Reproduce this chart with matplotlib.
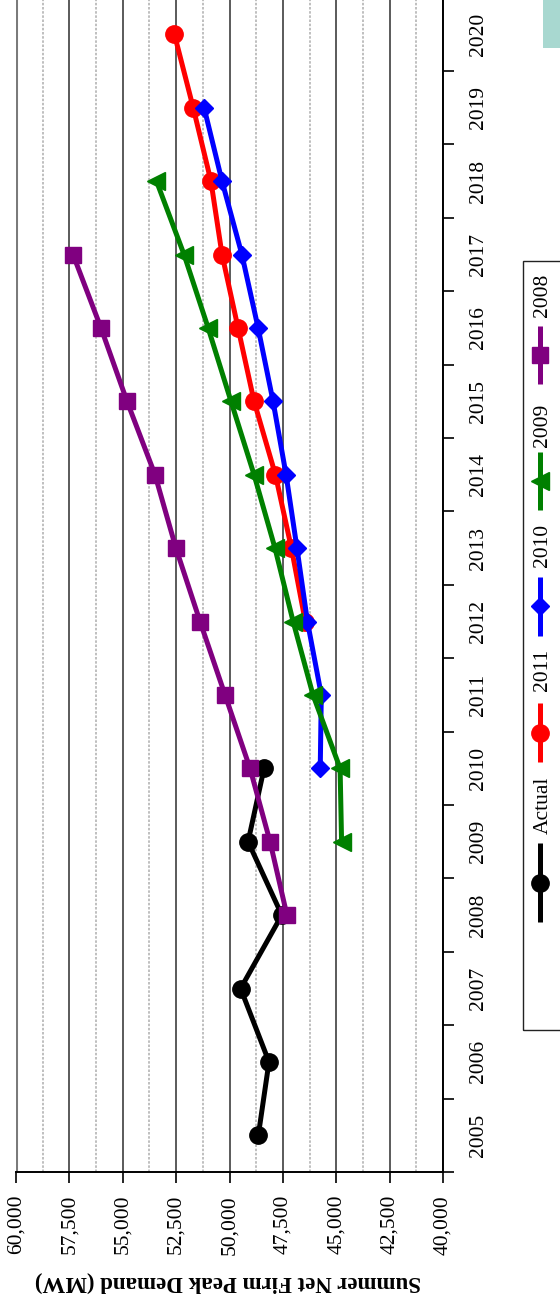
import matplotlib
matplotlib.use("Agg")
import matplotlib.pyplot as plt
from matplotlib.lines import Line2D
from matplotlib.patches import Rectangle
from matplotlib.ticker import FixedLocator, FuncFormatter

plt.rcParams["font.family"] = ["Liberation Serif", "DejaVu Serif"]

# ---- data -------------------------------------------------------------
years = list(range(2005, 2021))

actual_years = [2005, 2006, 2007, 2008, 2009, 2010]
actual = [48650, 48150, 49480, 47550, 49130, 48380]

f2011_years = [2012, 2013, 2014, 2015, 2016, 2017, 2018, 2019, 2020]
f2011 = [46450, 47100, 47850, 48850, 49600, 50350, 50870, 51700, 52580]

f2010_years = [2010, 2011, 2012, 2013, 2014, 2015, 2016, 2017, 2018, 2019]
f2010 = [45750, 45700, 46350, 46840, 47350, 47960, 48660, 49420, 50350, 51190]

f2009_years = [2009, 2010, 2011, 2012, 2013, 2014, 2015, 2016, 2017, 2018]
f2009 = [44750, 44820, 46090, 47020, 47870, 48850, 49930, 51000, 52130, 53420]

f2008_years = [2008, 2009, 2010, 2011, 2012, 2013, 2014, 2015, 2016, 2017]
f2008 = [47310, 48100, 49040, 50210, 51380, 52510, 53490, 54800, 56020, 57330]

series_labels = ["Actual", "2011", "2010", "2009", "2008"]
series_colors = ["black", "#ff0000", "#0000ff", "#008000", "#800080"]
series_markers = ["o", "o", "D", "<", "s"]
value_ticks = [60000, 57500, 55000, 52500, 50000, 47500, 45000, 42500, 40000]
axis_title = "Summer Net Firm Peak Demand (MW)"

# ---- figure -----------------------------------------------------------
W, H = 560, 1303
fig = plt.figure(figsize=(W / 100, H / 100), dpi=100)

def fx(px):
    return px / W

def fy(py):
    return 1 - py / H

ax_left, ax_right = 16, 443
ax_bottom, ax_top = 1172, -2.4
ax = fig.add_axes([fx(ax_left), fy(ax_bottom), fx(ax_right - ax_left),
                   (ax_bottom - ax_top) / H])

def yidx(yrs):
    return [y - years[0] for y in yrs]

# grid (value axis is horizontal, reversed)
for v in range(40000, 60001, 2500):
    ax.axvline(v, color="#5a5a5a", lw=2.2 if v == 60000 else 1.4,
               alpha=0.8 if v == 60000 else 1.0, zorder=0)
for v in range(41250, 60000, 2500):
    ax.axvline(v, color="#b4b4b4", lw=1.2, ls=(0, (1.5, 1)), zorder=0)

series = [
    (actual_years, actual),
    (f2011_years, f2011),
    (f2010_years, f2010),
    (f2009_years, f2009),
    (f2008_years, f2008),
]
msizes = {"o": 12.5, "D": 9.3, "<": 12.5, "s": 11.5}
for i, (yrs, vals) in enumerate(series):
    ax.plot(vals, yidx(yrs), color=series_colors[i], lw=3.6,
            marker=series_markers[i], ms=msizes[series_markers[i]],
            mec=series_colors[i], mfc=series_colors[i], zorder=3 + i * 0.1,
            solid_capstyle="butt")

ax.set_xlim(60000, 40000)
ax.set_ylim(-0.5, len(years) - 0.5)

# value axis along the bottom
ax.xaxis.set_major_locator(FixedLocator(value_ticks))
ax.xaxis.set_major_formatter(FuncFormatter(lambda v, p: f"{int(v):,}"))
ax.tick_params(axis="x", direction="out", length=8, width=1.2, pad=8.5,
               labelsize=15.5, labelrotation=90, color="black")

# year axis on the right, ticks between categories
ax.yaxis.tick_right()
ax.yaxis.set_major_locator(FixedLocator(range(len(years))))
ax.yaxis.set_major_formatter(FuncFormatter(lambda v, p: str(years[int(round(v))])))
ax.yaxis.set_minor_locator(FixedLocator([i - 0.5 for i in range(len(years) + 1)]))
ax.tick_params(axis="y", which="major", length=0, pad=18.5, labelsize=15.5,
               labelrotation=90)
ax.tick_params(axis="y", which="minor", direction="out", length=8, width=1.2,
               color="black", right=True, left=False)
for lab in ax.get_yticklabels():
    lab.set_va("center")
    lab.set_ha("left")

for s in ["left", "top"]:
    ax.spines[s].set_visible(False)
ax.spines["bottom"].set_linewidth(1.4)
ax.spines["right"].set_linewidth(1.4)

# axis title (upside down, below value labels)
fig.text(fx(228), fy(1282), axis_title, rotation=180, ha="center", va="center",
         fontsize=16.5, fontweight="bold")

# ---- legend (drawn vertically on the right) ---------------------------
fig.patches.append(Rectangle((fx(523), fy(1030)), fx(60), (1030 - 261) / H,
                             transform=fig.transFigure, fill=False,
                             edgecolor="#222222", lw=1.0))
legend_rows = [
    # (line start, line end, text center) in pixel rows
    (843, 922, 805),
    (703, 762, 670),
    (577, 636, 545),
    (452, 510, 425),
    (326, 384, 295),
]
for i, (y0, y1, ty) in enumerate(legend_rows):
    fig.add_artist(Line2D([fx(540), fx(540)], [fy(y0), fy(y1)],
                          transform=fig.transFigure, color=series_colors[i],
                          lw=3.6, solid_capstyle="butt"))
    m = series_markers[i]
    fig.add_artist(Line2D([fx(540)], [fy((y0 + y1) / 2)],
                          transform=fig.transFigure, color=series_colors[i],
                          marker=m, ms=msizes[m], ls="none"))
    fig.text(fx(543), fy(ty), series_labels[i], rotation=90, ha="center",
             va="center", fontsize=15.5)

# neighbouring tile at the top-right edge
fig.patches.append(Rectangle((fx(543), fy(48)), fx(20), 48 / H,
                             transform=fig.transFigure, facecolor="#a8d8d0",
                             edgecolor="none"))

fig.savefig("out.png", dpi=100)
